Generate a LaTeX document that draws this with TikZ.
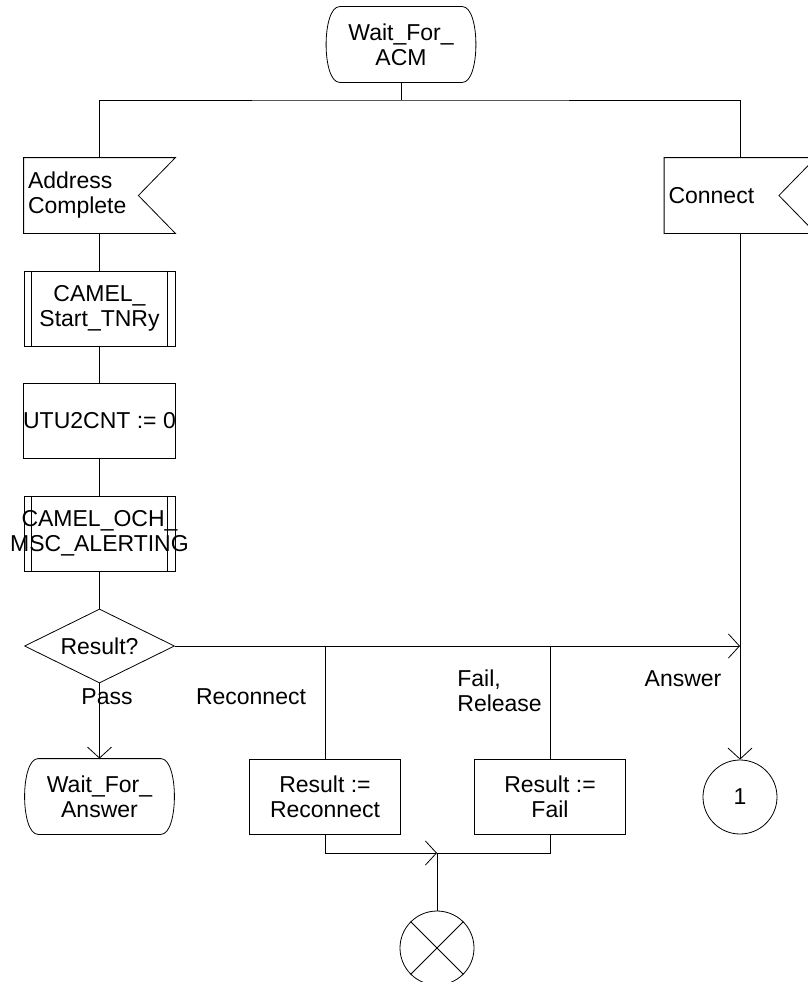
\documentclass[tikz,border=0pt]{standalone}
\usepackage{fontspec}
\setmainfont{Liberation Sans}
\usetikzlibrary{arrows.meta,shapes.geometric,calc}
\begin{document}
\begin{tikzpicture}[x=1pt,y=-1pt,
  font=\fontsize{23}{25}\selectfont, line width=0.8pt,
  every node/.style={inner sep=0pt},
  state/.style={minimum width=150pt, minimum height=75pt, align=center},
  task/.style={draw, minimum width=151pt, minimum height=75pt, align=center},
  proc/.style={task},
  insig/.style={minimum width=151pt, minimum height=75pt, text width=143pt, inner sep=4pt, align=left},
  dec/.style={draw, diamond, aspect=2, minimum width=150pt, minimum height=74pt},
  conn/.style={draw, circle, minimum size=74pt},
  arr/.style={-{Straight Barb[length=11pt,width=24pt]}}]
\useasboundingbox (0,0) rectangle (807,982);
\node[state] (s0) at (401,44.5) {Wait\_For\_\\ACM};
\coordinate (sp) at (401,100);
\node[insig] (ac) at (99.5,195.5) {Address\\Complete};
\node[insig] (cn) at (740,195.5) {Connect};
\node[proc] (p1) at (99.5,308.5) {CAMEL\_\\Start\_TNRy};
\node[task] (t1) at (99.5,420.5) {UTU2CNT := 0};
\node[proc] (p2) at (99.5,533.5) {};
\node[align=center] (p2t) at (p2) {CAMEL\_OCH\_\\MSC\_ALERTING};
\node[dec] (d) at (99.5,646) {Result?};
\node[state] (wa) at (99.5,796.5) {Wait\_For\_\\Answer};
\node[task] (r1) at (325,796.5) {Result :=\\Reconnect};
\node[task] (r2) at (550,796.5) {Result :=\\Fail};
\node[conn] (c1) at (740,797) {1};
\coordinate (mg) at (437,853);
\node[conn] (x) at (437,948) {};
\node (lp) at (107,697) {Pass};
\node (lr) at (251,697) {Reconnect};
\node[anchor=west, align=left] (lf) at (457,691) {Fail,\\Release};
\node (la) at (683,679) {Answer};
% state symbols
\foreach \n in {s0,wa}
  \draw ([xshift=14pt]\n.north west) -- ([xshift=-14pt]\n.north east)
    .. controls ([xshift=4pt]\n.north east) and ([xshift=4pt]\n.south east) .. ([xshift=-14pt]\n.south east)
    -- ([xshift=14pt]\n.south west)
    .. controls ([xshift=-4pt]\n.south west) and ([xshift=-4pt]\n.north west) .. cycle;
% input signal shapes
\foreach \n in {ac,cn}
  \draw (\n.north west) -- (\n.north east) -- ([xshift=-37pt]\n.east) -- (\n.south east) -- (\n.south west) -- cycle;
% procedure side bars
\foreach \n in {p1,p2} {
  \draw ([xshift=8pt]\n.north west) -- ([xshift=8pt]\n.south west);
  \draw ([xshift=-8pt]\n.north east) -- ([xshift=-8pt]\n.south east);
}
% connectors
\draw (s0.south) -- (sp);
\draw (ac.north) |- (sp) -| (cn.north);
\draw (ac.south) -- (p1.north);
\draw (p1.south) -- (t1.north);
\draw (t1.south) -- (p2.north);
\draw (p2.south) -- (d.north);
\draw[arr] (d.south) -- (wa.north);
\draw[arr] (d.east) -- (c1.north |- d.east);
\draw[arr] (cn.south) -- (c1.north);
\draw (r1.north) -- (r1.north |- d.east);
\draw (r2.north) -- (r2.north |- d.east);
\draw[arr] (r1.south) |- (mg);
\draw (r2.south) |- (mg);
\draw (mg) -- (x.north);
\draw (x.north west) -- (x.south east) (x.north east) -- (x.south west);
\end{tikzpicture}
\end{document}
